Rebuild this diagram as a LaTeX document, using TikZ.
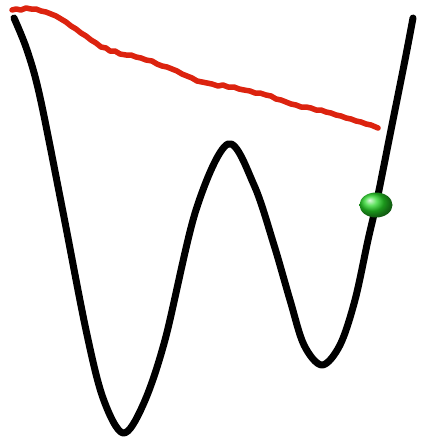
\documentclass[tikz,border=0pt]{standalone}
\begin{document}
\begin{tikzpicture}[x=1pt,y=-1pt,
  potential/.style={line width=7pt,line cap=round,line join=round,black},
  trace/.style={line width=5.5pt,line cap=round,line join=round,color={rgb,255:red,220;green,35;blue,15}}]
\useasboundingbox (0,0) rectangle (425,437);
\fill[white] (0,0) rectangle (425,437);
% potential curve
\draw[potential] plot[smooth,tension=0.55] coordinates {
 (14,18) (27,50) (40,97) (63,212) (86,330) (103,398) (123,433) (143,405)
 (165,340) (196,210) (228,144) (254,185) (274,245) (290,300) (304,345) (322,365)
 (340,345) (355,300) (368,240) (376,205) (390,135) (405,60) (413,18)};
% red trace
\draw[trace] plot coordinates {
 (12,10) (16,9) (21,10) (26,8) (31,9) (36,9) (41,11) (46,12) (51,14) (56,16) (61,19)
 (66,22) (71,26) (76,29) (81,33) (86,36) (91,40) (96,43) (101,47) (106,48) (110,51)
 (115,51) (120,54) (126,55) (131,55) (136,57) (141,58) (146,60) (152,61) (157,64)
 (162,66) (167,67) (172,69) (177,71) (182,74) (187,76) (192,78) (197,81) (202,82)
 (207,83) (212,84) (218,86) (223,85) (228,87) (234,87) (239,89) (244,90) (250,91)
 (255,93) (260,93) (266,95) (271,96) (276,99) (281,100) (286,102) (291,104) (296,105)
 (301,107) (306,107) (311,108) (316,110) (321,110) (326,112) (331,113) (336,115)
 (341,116) (346,118) (351,119) (356,121) (361,122) (366,124) (371,125) (378,128)};
% ball
\shade[ball color={rgb,255:red,40;green,215;blue,40}] (376,205) ellipse [x radius=16.5pt,y radius=12.5pt];
\end{tikzpicture}
\end{document}
